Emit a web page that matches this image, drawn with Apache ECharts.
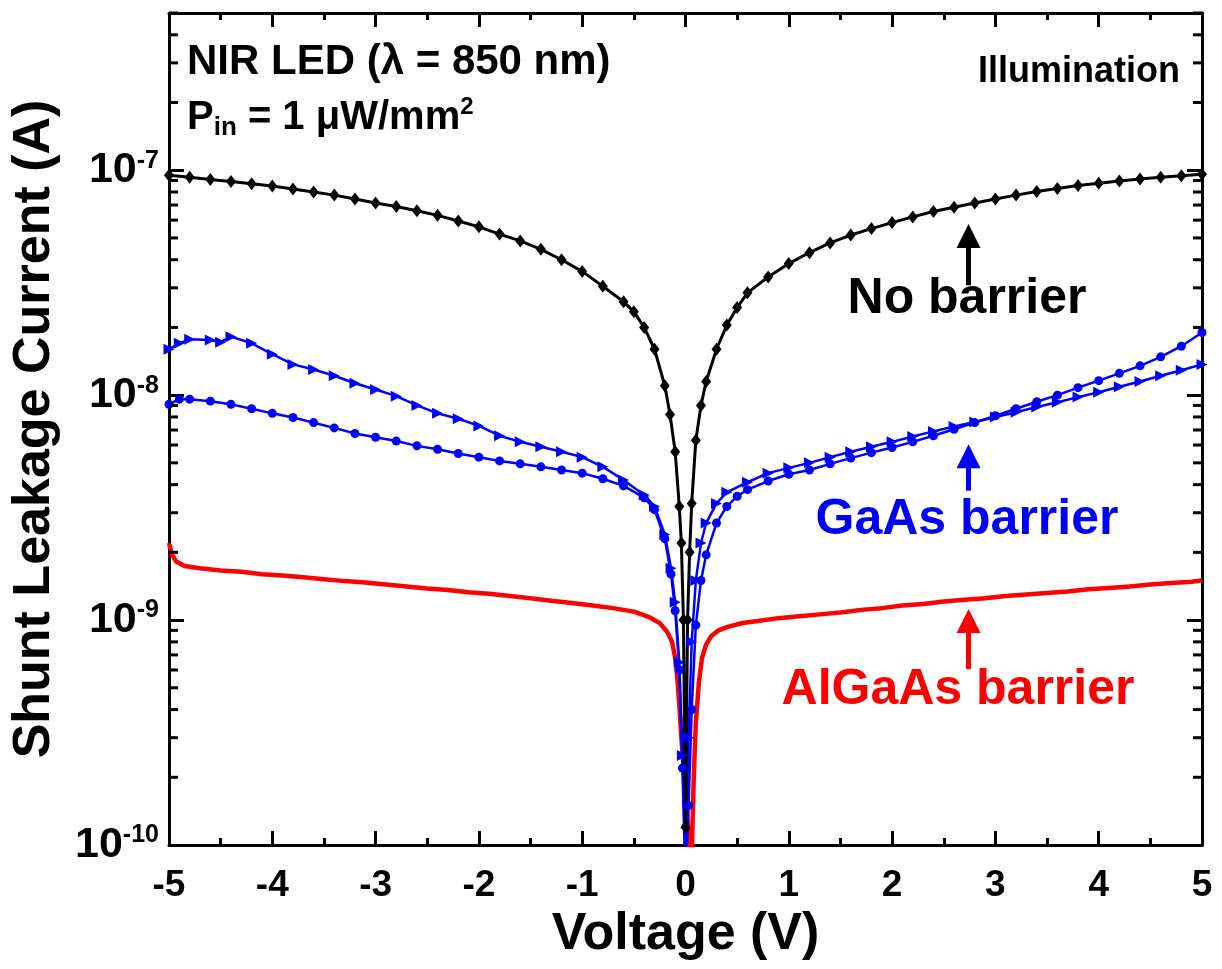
<!DOCTYPE html>
<html>
<head>
<meta charset="utf-8">
<title>Shunt leakage current under illumination</title>
<script src="https://cdn.jsdelivr.net/npm/echarts@6/dist/echarts.min.js"></script>
<style>
  html, body { margin: 0; padding: 0; background: #fff; }
  #chart { width: 1222px; height: 969px; }
</style>
</head>
<body>
<div id="chart"></div>
<script>
// [voltage (V), current (A)]
var noBarrier = [
  [-5, 9.5e-8], [-4.8, 9.3e-8], [-4.6, 9.1e-8], [-4.4, 8.9e-8], [-4.2, 8.7e-8], [-4, 8.5e-8],
  [-3.8, 8.25e-8], [-3.6, 8.0e-8], [-3.4, 7.75e-8], [-3.2, 7.45e-8], [-3, 7.15e-8], [-2.8, 6.9e-8],
  [-2.6, 6.6e-8], [-2.4, 6.3e-8], [-2.2, 5.95e-8], [-2, 5.6e-8], [-1.8, 5.2e-8], [-1.6, 4.85e-8],
  [-1.4, 4.45e-8], [-1.2, 4.0e-8], [-1, 3.55e-8], [-0.8, 3.05e-8], [-0.6, 2.6e-8], [-0.5, 2.35e-8],
  [-0.4, 2.0e-8], [-0.3, 1.6e-8], [-0.2, 1.1e-8], [-0.15, 8.2e-9], [-0.1, 5.6e-9], [-0.06, 3.2e-9],
  [-0.04, 2.2e-9], [-0.02, 1.0e-9], [0, 1.2e-10], [0.02, 1.0e-9], [0.04, 2.0e-9], [0.06, 3.3e-9],
  [0.1, 6.3e-9], [0.15, 9.0e-9], [0.2, 1.15e-8], [0.3, 1.6e-8], [0.4, 2.05e-8], [0.5, 2.45e-8],
  [0.6, 2.85e-8], [0.8, 3.35e-8], [1, 3.85e-8], [1.2, 4.3e-8], [1.4, 4.75e-8], [1.6, 5.15e-8],
  [1.8, 5.5e-8], [2, 5.85e-8], [2.2, 6.2e-8], [2.4, 6.55e-8], [2.6, 6.85e-8], [2.8, 7.15e-8],
  [3, 7.45e-8], [3.2, 7.75e-8], [3.4, 8.05e-8], [3.6, 8.3e-8], [3.8, 8.55e-8], [4, 8.75e-8],
  [4.2, 8.95e-8], [4.4, 9.15e-8], [4.6, 9.3e-8], [4.8, 9.45e-8], [5, 9.6e-8]
];

// GaAs barrier, sweep drawn with triangles
var gaasTri = [
  [-5, 1.6e-8], [-4.9, 1.7e-8], [-4.8, 1.77e-8], [-4.6, 1.76e-8], [-4.5, 1.72e-8], [-4.4, 1.82e-8],
  [-4.2, 1.7e-8], [-4, 1.52e-8], [-3.8, 1.37e-8], [-3.6, 1.3e-8], [-3.4, 1.22e-8], [-3.2, 1.13e-8],
  [-3, 1.06e-8], [-2.8, 9.9e-9], [-2.6, 9.0e-9], [-2.4, 8.3e-9], [-2.2, 7.85e-9], [-2, 7.3e-9],
  [-1.8, 6.6e-9], [-1.6, 6.2e-9], [-1.4, 5.9e-9], [-1.2, 5.6e-9], [-1, 5.3e-9], [-0.8, 4.8e-9],
  [-0.6, 4.2e-9], [-0.4, 3.6e-9], [-0.3, 3.2e-9], [-0.2, 2.4e-9], [-0.14, 1.7e-9], [-0.1, 1.2e-9],
  [-0.06, 6.5e-10], [-0.03, 2.5e-10], [0, 8e-11], [0.03, 3e-10], [0.06, 8e-10], [0.1, 1.5e-9],
  [0.15, 2.2e-9], [0.2, 2.7e-9], [0.3, 3.3e-9], [0.4, 3.7e-9], [0.6, 4.1e-9], [0.8, 4.5e-9],
  [1, 4.75e-9], [1.2, 5.0e-9], [1.4, 5.3e-9], [1.6, 5.6e-9], [1.8, 5.9e-9], [2, 6.2e-9],
  [2.2, 6.55e-9], [2.4, 6.9e-9], [2.6, 7.25e-9], [2.8, 7.6e-9], [3, 8.0e-9], [3.2, 8.4e-9],
  [3.4, 8.85e-9], [3.6, 9.3e-9], [3.8, 9.8e-9], [4, 1.03e-8], [4.2, 1.09e-8], [4.4, 1.15e-8],
  [4.6, 1.22e-8], [4.8, 1.29e-8], [5, 1.37e-8]
];

// GaAs barrier, sweep drawn with circles
var gaasCirc = [
  [-5, 9.1e-9], [-4.9, 9.6e-9], [-4.8, 9.6e-9], [-4.6, 9.4e-9], [-4.4, 9.1e-9], [-4.2, 8.7e-9],
  [-4, 8.3e-9], [-3.8, 7.95e-9], [-3.6, 7.55e-9], [-3.4, 7.15e-9], [-3.2, 6.75e-9], [-3, 6.5e-9],
  [-2.8, 6.25e-9], [-2.6, 5.95e-9], [-2.4, 5.75e-9], [-2.2, 5.5e-9], [-2, 5.3e-9], [-1.8, 5.1e-9],
  [-1.6, 4.95e-9], [-1.4, 4.8e-9], [-1.2, 4.65e-9], [-1, 4.5e-9], [-0.8, 4.25e-9], [-0.6, 3.95e-9],
  [-0.4, 3.5e-9], [-0.3, 3.1e-9], [-0.2, 2.3e-9], [-0.14, 1.6e-9], [-0.1, 1.1e-9], [-0.06, 6e-10],
  [-0.03, 2.2e-10], [0, 7e-11], [0.03, 1.5e-10], [0.06, 4e-10], [0.1, 9.5e-10], [0.15, 1.5e-9],
  [0.2, 1.95e-9], [0.3, 2.7e-9], [0.4, 3.2e-9], [0.5, 3.55e-9], [0.6, 3.8e-9], [0.8, 4.15e-9],
  [1, 4.45e-9], [1.2, 4.65e-9], [1.4, 4.95e-9], [1.6, 5.25e-9], [1.8, 5.55e-9], [2, 5.85e-9],
  [2.2, 6.2e-9], [2.4, 6.6e-9], [2.6, 7.05e-9], [2.8, 7.55e-9], [3, 8.1e-9], [3.2, 8.7e-9],
  [3.4, 9.35e-9], [3.6, 1.0e-8], [3.8, 1.08e-8], [4, 1.16e-8], [4.2, 1.25e-8], [4.4, 1.35e-8],
  [4.6, 1.48e-8], [4.8, 1.65e-8], [5, 1.9e-8]
];

var algaas = [
  [-5, 2.2e-9], [-4.97, 1.95e-9], [-4.93, 1.82e-9], [-4.85, 1.74e-9], [-4.7, 1.7e-9], [-4.5, 1.66e-9],
  [-4.3, 1.64e-9], [-4.1, 1.6e-9], [-3.9, 1.58e-9], [-3.7, 1.55e-9], [-3.5, 1.52e-9], [-3.3, 1.49e-9],
  [-3.1, 1.47e-9], [-2.9, 1.44e-9], [-2.7, 1.41e-9], [-2.5, 1.38e-9], [-2.3, 1.36e-9], [-2.1, 1.33e-9],
  [-1.9, 1.31e-9], [-1.7, 1.28e-9], [-1.5, 1.25e-9], [-1.3, 1.22e-9], [-1.1, 1.19e-9], [-0.9, 1.16e-9],
  [-0.7, 1.13e-9], [-0.5, 1.09e-9], [-0.35, 1.03e-9], [-0.25, 9.7e-10], [-0.18, 8.9e-10], [-0.13, 8.0e-10],
  [-0.1, 6.8e-10], [-0.08, 5.6e-10], [-0.06, 4.2e-10], [-0.04, 3.0e-10], [-0.02, 2.3e-10], [0, 1.8e-10],
  [0.02, 1.3e-10], [0.04, 8e-11], [0.06, 9e-11], [0.08, 2.0e-10], [0.1, 3.5e-10], [0.13, 5.3e-10],
  [0.16, 6.8e-10], [0.2, 7.8e-10], [0.25, 8.5e-10], [0.32, 9.0e-10], [0.4, 9.3e-10], [0.55, 9.7e-10],
  [0.7, 9.9e-10], [0.9, 1.02e-9], [1.1, 1.04e-9], [1.3, 1.06e-9], [1.5, 1.08e-9], [1.7, 1.11e-9],
  [1.9, 1.13e-9], [2.1, 1.16e-9], [2.3, 1.18e-9], [2.5, 1.21e-9], [2.7, 1.23e-9], [2.9, 1.25e-9],
  [3.1, 1.28e-9], [3.3, 1.3e-9], [3.5, 1.32e-9], [3.7, 1.34e-9], [3.9, 1.37e-9], [4.1, 1.39e-9],
  [4.3, 1.41e-9], [4.5, 1.44e-9], [4.7, 1.46e-9], [4.9, 1.48e-9], [5, 1.5e-9]
];

// arrows: [voltage, tail current, head current]
var arrowNo = [2.74, 3.08e-8, 5.1e-8];
var arrowGaAs = [2.74, 3.76e-9, 5.35e-9];
var arrowAlGaAs = [2.74, 6.05e-10, 9.9e-10];

var decades = [1e-10, 1e-9, 1e-8, 1e-7];
var yMin = 1e-10, yMax = 5e-7;

// minor ticks of the log axis at 2..9 x 10^n
var minorTickValues = [];
decades.forEach(function (d) {
  for (var k = 2; k <= 9; k++) {
    if (d * k <= yMax) minorTickValues.push(d * k);
  }
});

var FONT = '"Liberation Sans", Arial, sans-serif';

var chart = echarts.init(document.getElementById('chart'));

function arrow(a, color) {
  return {
    silent: true,
    symbol: ['none', 'triangle'],
    symbolSize: 24,
    label: { show: false },
    lineStyle: { color: color, width: 5, type: 'solid' },
    emphasis: { disabled: true },
    data: [[{ coord: [a[0], a[1]] }, { coord: [a[0], a[2]] }]]
  };
}

var option = {
  animation: false,
  grid: { left: 169, right: 20, top: 13, bottom: 124 },
  xAxis: [{
    type: 'value', min: -5, max: 5, interval: 1,
    axisLine: { onZero: false, lineStyle: { color: '#000', width: 3 } },
    axisTick: { inside: true, length: 14, lineStyle: { width: 3 } },
    minorTick: { show: true, splitNumber: 2, length: 7, lineStyle: { width: 3, color: '#000' } },
    splitLine: { show: false },
    axisLabel: { margin: 22, color: '#000', fontSize: 37, fontWeight: 'bold', fontFamily: FONT },
    name: 'Voltage (V)', nameLocation: 'middle', nameGap: 64,
    nameTextStyle: { color: '#000', fontSize: 52, fontWeight: 'bold', fontFamily: FONT }
  }, {
    type: 'value', min: -5, max: 5, interval: 1, position: 'top',
    axisLine: { onZero: false, lineStyle: { color: '#000', width: 3 } },
    axisTick: { inside: true, length: 14, lineStyle: { width: 3 } },
    minorTick: { show: true, splitNumber: 2, length: 7, lineStyle: { width: 3, color: '#000' } },
    splitLine: { show: false },
    axisLabel: { show: false }
  }],
  yAxis: [{
    type: 'log', logBase: 10, min: yMin, max: yMax,
    axisLine: { show: true, onZero: false, lineStyle: { color: '#000', width: 3 } },
    axisTick: { show: true, inside: true, length: 15, lineStyle: { width: 3 } },
    splitLine: { show: false },
    axisLabel: {
      margin: 10, color: '#000', fontFamily: FONT,
      formatter: function (v) {
        var e = Math.round(Math.log10(v));
        if (Math.abs(v - Math.pow(10, e)) > v * 1e-6) return '';
        return '{b|10}{s|' + e + '}';
      },
      rich: {
        b: { fontSize: 43, fontWeight: 'bold', fontFamily: FONT, color: '#000', lineHeight: 44 },
        s: { fontSize: 25, fontWeight: 'bold', fontFamily: FONT, color: '#000', verticalAlign: 'top', lineHeight: 24 }
      }
    },
    name: 'Shunt Leakage Current (A)', nameLocation: 'middle', nameGap: 108,
    nameTextStyle: { color: '#000', fontSize: 52, fontWeight: 'bold', fontFamily: FONT }
  }, {
    type: 'log', logBase: 10, min: yMin, max: yMax, position: 'right',
    axisLine: { show: true, onZero: false, lineStyle: { color: '#000', width: 3 } },
    axisTick: { show: true, inside: true, length: 15, lineStyle: { width: 3 } },
    splitLine: { show: false },
    axisLabel: { show: false }
  }],
  series: [{
    name: 'AlGaAs barrier', type: 'line', data: algaas,
    symbol: 'none', lineStyle: { color: '#ff0000', width: 4.5 },
    itemStyle: { color: '#ff0000' },
    markLine: arrow(arrowAlGaAs, '#ff0000')
  }, {
    name: 'GaAs barrier (circles)', type: 'line', data: gaasCirc,
    symbol: 'circle', symbolSize: 9, lineStyle: { color: '#0000ff', width: 2.5 },
    itemStyle: { color: '#0000ff' }
  }, {
    name: 'GaAs barrier', type: 'line', data: gaasTri,
    symbol: 'triangle', symbolRotate: -90, symbolSize: 11, lineStyle: { color: '#0000ff', width: 2.5 },
    itemStyle: { color: '#0000ff' },
    markLine: arrow(arrowGaAs, '#0000ff')
  }, {
    name: 'No barrier', type: 'line', data: noBarrier,
    symbol: 'diamond', symbolSize: [10, 13], lineStyle: { color: '#000', width: 3 },
    itemStyle: { color: '#000' },
    markLine: arrow(arrowNo, '#000')
  }, {
    // minor ticks on the left and right log axes
    type: 'custom', silent: true, clip: false, z: 10,
    data: minorTickValues.map(function (v) { return [0, v]; }),
    renderItem: function (params, api) {
      var y = api.coord([0, api.value(1)])[1];
      var cs = params.coordSys;
      var st = { stroke: '#000', lineWidth: 3 };
      return {
        type: 'group',
        children: [
          { type: 'line', shape: { x1: cs.x, y1: y, x2: cs.x + 9, y2: y }, style: st },
          { type: 'line', shape: { x1: cs.x + cs.width - 9, y1: y, x2: cs.x + cs.width, y2: y }, style: st }
        ]
      };
    }
  }],
  graphic: [{
    type: 'text', x: 187, y: 62,
    style: { text: 'NIR LED (λ = 850 nm)', fill: '#000', font: 'bold 42px ' + FONT, verticalAlign: 'middle' }
  }, {
    type: 'text', x: 187, y: 118,
    style: {
      text: '{m|P}{sub|in}{m| = 1 μW/mm}{sup|2}', verticalAlign: 'middle',
      rich: {
        m: { fontSize: 40, fontWeight: 'bold', fontFamily: FONT, fill: '#000', lineHeight: 46 },
        sub: { fontSize: 26, fontWeight: 'bold', fontFamily: FONT, fill: '#000', verticalAlign: 'bottom', lineHeight: 26 },
        sup: { fontSize: 24, fontWeight: 'bold', fontFamily: FONT, fill: '#000', verticalAlign: 'top', lineHeight: 24 }
      }
    }
  }, {
    type: 'text', x: 1180, y: 72,
    style: { text: 'Illumination', fill: '#000', font: 'bold 36px ' + FONT, align: 'right', verticalAlign: 'middle' }
  }, {
    type: 'text', x: 967, y: 299,
    style: { text: 'No barrier', fill: '#000', font: 'bold 50px ' + FONT, align: 'center', verticalAlign: 'middle' }
  }, {
    type: 'text', x: 967, y: 520,
    style: { text: 'GaAs barrier', fill: '#0000ff', font: 'bold 50px ' + FONT, align: 'center', verticalAlign: 'middle' }
  }, {
    type: 'text', x: 958, y: 690,
    style: { text: 'AlGaAs barrier', fill: '#ff0000', font: 'bold 50px ' + FONT, align: 'center', verticalAlign: 'middle' }
  }]
};

chart.setOption(option);
</script>
</body>
</html>
